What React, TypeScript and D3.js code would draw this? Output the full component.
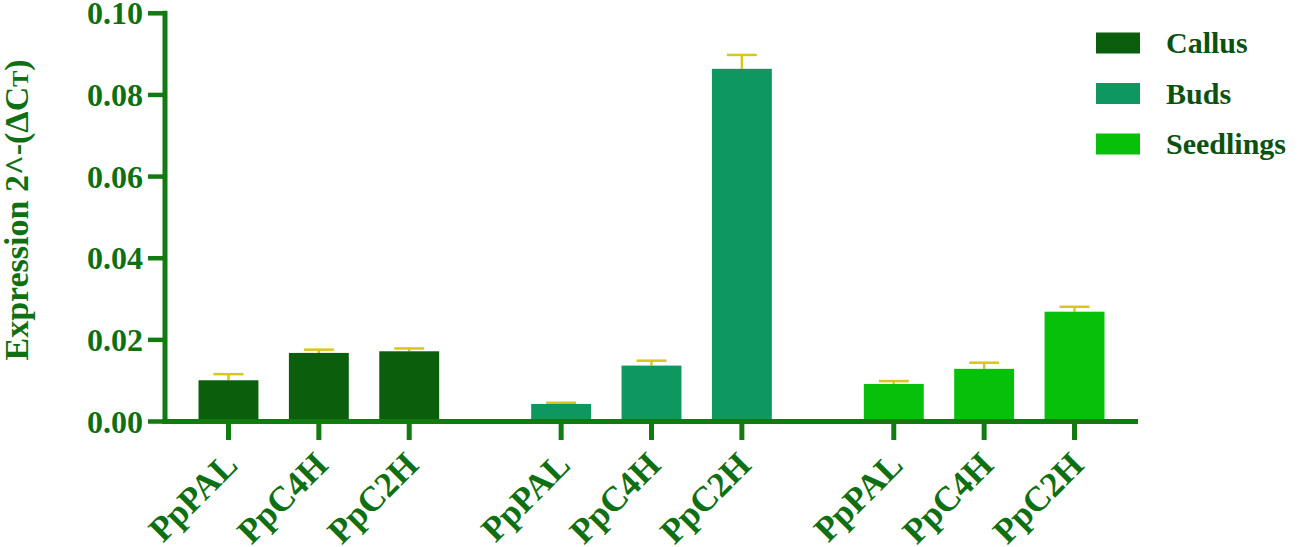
import React from "react";
import * as d3 from "d3";

const tissues = ["Callus", "Buds", "Seedlings"];
const genes = ["PpPAL", "PpC4H", "PpC2H"];
const callusValues = [0.0101, 0.0168, 0.0172];
const callusErrors = [0.0015, 0.0008, 0.0007];
const budsValues = [0.0043, 0.0137, 0.0864];
const budsErrors = [0.0003, 0.0012, 0.0034];
const seedlingsValues = [0.0092, 0.0129, 0.0269];
const seedlingsErrors = [0.0007, 0.0015, 0.0012];
const yTicks = [0, 0.02, 0.04, 0.06, 0.08, 0.1];

const tissueColors = ["#0a5e0c", "#0e9860", "#06c00a"];
const axisColor = "#117a11";
const textColor = "#0e7012";
const legendText = "#0b5210";
const errColor = "#d8c61c";

const valuesByTissue = [callusValues, budsValues, seedlingsValues];
const errorsByTissue = [callusErrors, budsErrors, seedlingsErrors];

const W = 1299;
const H = 547;
const x0 = 165;
const x1 = 1138;
const y0 = 421.5;
const yTop = 13.3;

export default function App() {
  const outer = d3.scaleBand<string>().domain(tissues).range([x0, x1]).paddingInner(0.185).paddingOuter(0.055);
  const inner = d3.scaleBand<string>().domain(genes).range([0, outer.bandwidth()]).paddingInner(0.337).paddingOuter(0.1685);
  const y = d3.scaleLinear().domain([0, 0.1]).range([y0, yTop]);
  const font = "'Liberation Serif', 'Times New Roman', serif";

  const bars: any[] = [];
  tissues.forEach((t, ti) => {
    genes.forEach((g, gi) => {
      const v = valuesByTissue[ti][gi];
      const e = errorsByTissue[ti][gi];
      const bx = (outer(t) as number) + (inner(g) as number);
      const bw = inner.bandwidth();
      const cx = bx + bw / 2;
      bars.push(
        <g key={t + g}>
          <line x1={cx} x2={cx} y1={y(v)} y2={y(v + e)} stroke={errColor} strokeWidth={2.5} />
          <line x1={cx - bw / 4} x2={cx + bw / 4} y1={y(v + e)} y2={y(v + e)} stroke={errColor} strokeWidth={2.5} />
          <rect x={bx} y={y(v)} width={bw} height={y0 - y(v)} fill={tissueColors[ti]} />
          <line x1={cx} x2={cx} y1={y0} y2={440} stroke={axisColor} strokeWidth={5} />
          <text
            transform={`translate(${cx + 11},${467}) rotate(-45)`}
            textAnchor="end"
            fontFamily={font}
            fontWeight="bold"
            fontSize={35}
            fill={textColor}
          >
            {g}
          </text>
        </g>
      );
    });
  });

  return (
    <svg width={W} height={H} style={{ position: "absolute", left: 0, top: 0, background: "#fff" }}>
      {bars}
      {/* axes */}
      <line x1={x0} x2={x0} y1={yTop - 2.5} y2={y0 + 2.5} stroke={axisColor} strokeWidth={5} />
      <line x1={x0 - 2.5} x2={x1} y1={y0} y2={y0} stroke={axisColor} strokeWidth={5} />
      {yTicks.map((t) => (
        <g key={t}>
          <line x1={148} x2={x0} y1={y(t)} y2={y(t)} stroke={axisColor} strokeWidth={4.5} />
          <text x={143} y={y(t) + 11} textAnchor="end" fontFamily={font} fontWeight="bold" fontSize={32} fill={textColor}>
            {d3.format(".2f")(t)}
          </text>
        </g>
      ))}
      <text
        transform={`translate(28,210) rotate(-90)`}
        textAnchor="middle"
        fontFamily={font}
        fontWeight="bold"
        fontSize={34}
        fill={textColor}
      >
        Expression 2^-(ΔC<tspan fontSize={24}>T</tspan>)
      </text>
      {tissues.map((t, i) => (
        <g key={t}>
          <rect x={1096} y={32.5 + i * 50.5} width={44} height={21} fill={tissueColors[i]} />
          <text x={1166} y={53 + i * 50.5} fontFamily={font} fontWeight="bold" fontSize={30} fill={legendText}>
            {t}
          </text>
        </g>
      ))}
    </svg>
  );
}
